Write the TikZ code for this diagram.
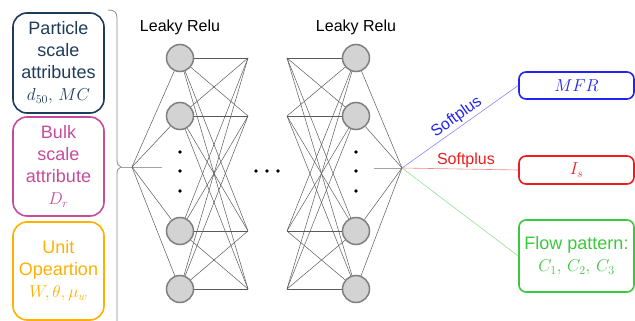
\documentclass[tikz,border=0pt]{standalone}
\usepackage{fontspec}
\setmainfont{Liberation Sans}
\definecolor{pcol}{HTML}{1F3B5A}
\definecolor{bcol}{HTML}{C64B9B}
\definecolor{ucol}{HTML}{FFB000}
\definecolor{ocblue}{HTML}{2424F0}
\definecolor{ocred}{HTML}{EE1C1C}
\definecolor{ocgreen}{HTML}{3CC83C}
\definecolor{nodeedge}{HTML}{7F7F7F}
\definecolor{nodefill}{HTML}{D3D3D3}
\definecolor{wiregray}{HTML}{5A5A5A}
\definecolor{bracegray}{HTML}{8C8C8C}
\begin{document}
\begin{tikzpicture}[x=1pt,y=-1pt,
  inbox/.style={draw, line width=1.6pt, rounded corners=14pt, minimum width=91pt,
    align=center, font=\fontsize{18}{22}\selectfont, inner sep=0pt},
  outbox/.style={draw, line width=1.6pt, rounded corners=7pt, minimum width=115pt,
    align=center, font=\fontsize{18}{22}\selectfont, inner sep=0pt},
  neuron/.style={circle, draw=nodeedge, fill=nodefill, line width=1.5pt,
    minimum size=27pt, inner sep=0pt},
  wire/.style={draw=wiregray, line width=0.5pt},
  stub/.style={draw=bracegray!80, line width=0.8pt},
  blackdot/.style={circle, fill=black, minimum size=3.6pt, inner sep=0pt},
  lbl/.style={font=\fontsize{16}{18}\selectfont, inner sep=2pt}
]
\useasboundingbox (0,0) rectangle (635,321);

% input attribute groups
\node[inbox, draw=pcol, text=pcol, minimum height=100pt] (particle) at (58.5,63)
  {Particle\\scale\\attributes\\$d_{50},\,MC$};
\node[inbox, draw=bcol, text=bcol, minimum height=99pt] (bulk) at (58.5,166.5)
  {Bulk\\scale\\attribute\\$D_r$};
\node[inbox, draw=ucol, text=ucol, minimum height=98pt] (unit) at (58.5,271)
  {Unit\\Opeartion\\$W,\theta,\mu_w$};

% brace gathering the inputs
\coordinate (bracetip) at (121,167);
\draw[draw=bracegray, line width=0.8pt] (108,10) .. controls (114,10) and (117,12) .. (117,18)
  -- (117,159) .. controls (117,164) and (118,166) .. (bracetip)
  .. controls (118,168) and (117,170) .. (117,175) -- (117,330);

% input fan point
\coordinate (infocus) at (132,167);
\coordinate (instub) at (162,167);
\draw[stub] (bracetip) -- (instub);

% layer labels
\node[lbl] (relu1) at (180,27) {Leaky Relu};
\node[lbl] (relu2) at (356,27) {Leaky Relu};

% neurons and loose wire ends
\foreach \i/\y in {1/58,2/116,3/231,4/289} {
  \node[neuron] (a\i) at (180,\y) {};
  \node[neuron] (b\i) at (356,\y) {};
  \coordinate (p\i) at (248,\y);
  \coordinate (q\i) at (287,\y);
}

% vertical ellipses inside the layers
\foreach \k/\y in {1/152,2/171,3/191} {
  \node[blackdot] (da\k) at (180,\y) {};
  \node[blackdot] (db\k) at (356,\y) {};
}
% horizontal ellipsis between the layers
\foreach \k/\x in {1/256,2/267,3/278} {
  \node[blackdot] (dh\k) at (\x,171) {};
}

% output fan point
\coordinate (outfocus) at (402,168);
\coordinate (outstub) at (374,168);
\draw[stub] (outstub) -- (outfocus);

% wiring
\foreach \i in {1,...,4} {
  \draw[wire] (infocus) -- (a\i);
  \draw[wire] (b\i) -- (outfocus);
  \foreach \j in {1,...,4} {
    \draw[wire] (a\i) -- (p\j);
    \draw[wire] (q\i) -- (b\j);
  }
}

% outputs
\node[outbox, draw=ocblue, text=ocblue, minimum height=27pt] (mfr) at (576.5,85.5) {$MFR$};
\node[outbox, draw=ocred, text=ocred, minimum height=28pt] (is) at (576.5,170) {$I_s$};
\node[outbox, draw=ocgreen, text=ocgreen, minimum height=72pt] (flow) at (576.5,256)
  {Flow pattern:\\$C_1,\,C_2,\,C_3$};

\draw[draw=ocblue!55, line width=0.6pt] (outfocus) -- (mfr.west)
  node[lbl, pos=0.52, sloped, above, text=ocblue] (sp1) {Softplus};
\draw[draw=ocred!55, line width=0.6pt] (outfocus) -- (is.west)
  node[lbl, pos=0.55, above, text=ocred, inner sep=1pt] (sp2) {Softplus};
\draw[draw=ocgreen!55, line width=0.6pt] (outfocus) -- (flow.west);
\end{tikzpicture}
\end{document}
